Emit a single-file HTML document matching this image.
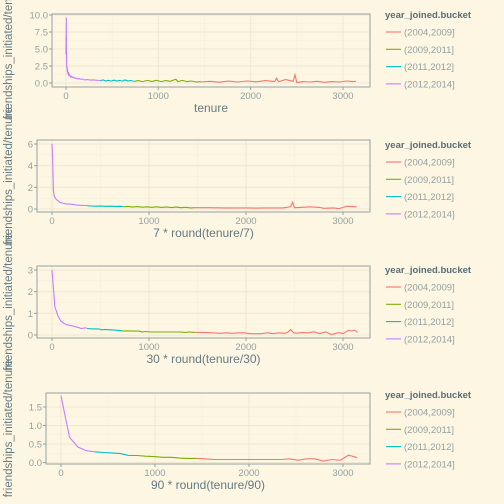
<!DOCTYPE html>
<html><head><meta charset="utf-8"><style>
body{margin:0;background:#fdf6e3;}
svg{display:block;font-family:"Liberation Sans",sans-serif;}
</style></head><body>
<svg id="c" width="504" height="504" viewBox="0 0 504 504">
<rect width="504" height="504" fill="#fdf6e3"/>
</svg>
<script>
// Panel 1: daily tenure
const p1PurpleX=[0,1,2,3,4,5,7,9,11,14,17,20,24,28,33,40,48,56,65,75,90,105,120,140,160,180,200,230,260,300,340,370];
const p1PurpleY=[4.2,6.8,5.0,9.6,6.2,4.3,3.0,2.2,2.5,1.6,2.1,1.4,1.3,1.6,1.1,1.2,0.9,1.0,0.8,0.9,0.7,0.75,0.6,0.65,0.55,0.6,0.45,0.5,0.42,0.45,0.4,0.38];
const p1CyanX=[370,400,430,460,490,520,550,580,610,640,670,700,730];
const p1CyanY=[0.3,0.45,0.3,0.4,0.28,0.42,0.3,0.38,0.28,0.45,0.3,0.36,0.3];
const p1GreenX=[730,780,830,880,930,980,1030,1080,1130,1170,1190,1210,1260,1310,1360,1410,1460];
const p1GreenY=[0.2,0.35,0.2,0.38,0.22,0.4,0.2,0.35,0.25,0.45,0.55,0.2,0.38,0.2,0.3,0.15,0.2];
const p1RedX=[1460,1560,1660,1760,1860,1960,2060,2160,2260,2280,2300,2380,2460,2480,2500,2560,2640,2720,2800,2880,2960,3040,3100,3140];
const p1RedY=[0.15,0.25,0.12,0.28,0.15,0.3,0.18,0.35,0.2,0.7,0.2,0.5,0.25,1.2,0.05,0.2,0.15,0.25,0.1,0.2,0.15,0.3,0.2,0.25];
// Panel 2: 7-day rounding
const p2PurpleX=[0,7,14,21,28,42,56,70,84,105,126,154,182,210,245,280,315,364];
const p2PurpleY=[6.0,4.4,1.7,1.3,1.1,0.9,0.8,0.7,0.6,0.55,0.5,0.45,0.45,0.42,0.38,0.35,0.33,0.32];
const p2CyanX=[364,400,450,500,550,600,650,700,735];
const p2CyanY=[0.3,0.28,0.26,0.27,0.25,0.26,0.24,0.25,0.22];
const p2GreenX=[735,780,830,880,930,980,1030,1080,1130,1180,1230,1280,1330,1380,1430,1463];
const p2GreenY=[0.2,0.24,0.18,0.22,0.17,0.2,0.16,0.2,0.15,0.19,0.13,0.18,0.12,0.16,0.1,0.12];
const p2RedX=[1463,1600,1800,2000,2100,2200,2380,2460,2480,2500,2560,2660,2760,2800,2900,2960,3000,3040,3140];
const p2RedY=[0.12,0.12,0.1,0.1,0.08,0.1,0.1,0.2,0.62,0.12,0.15,0.2,0.15,0.06,0.1,0.04,0.15,0.25,0.2];
// Panel 3: 30-day rounding
const p3PurpleX=[0,30,60,90,120,150,180,210,240,270,300,330,360];
const p3PurpleY=[3.0,1.3,0.9,0.65,0.55,0.48,0.45,0.42,0.38,0.35,0.3,0.32,0.33];
const p3CyanX=[360,420,480,510,540,600,660,720];
const p3CyanY=[0.3,0.28,0.28,0.24,0.26,0.24,0.22,0.2];
const p3GreenX=[720,780,840,900,930,960,1020,1080,1140,1200,1260,1320,1380,1410,1470];
const p3GreenY=[0.19,0.19,0.18,0.18,0.14,0.16,0.14,0.14,0.14,0.14,0.14,0.14,0.12,0.14,0.12];
const p3RedX=[1470,1560,1650,1740,1800,1860,1920,1980,2040,2100,2160,2220,2280,2340,2400,2430,2460,2490,2520,2580,2640,2700,2760,2820,2880,2940,2970,3000,3060,3090,3120,3150];
const p3RedY=[0.12,0.12,0.1,0.08,0.1,0.08,0.1,0.1,0.06,0.06,0.06,0.1,0.06,0.1,0.08,0.12,0.25,0.1,0.08,0.12,0.1,0.15,0.06,0.15,0.02,0.1,0.1,0.06,0.22,0.18,0.22,0.12];
// Panel 4: 90-day rounding
const p4PurpleX=[0,90,180,270,360];
const p4PurpleY=[1.8,0.68,0.42,0.32,0.29];
const p4CyanX=[360,450,540,630,720];
const p4CyanY=[0.29,0.27,0.26,0.24,0.19];
const p4GreenX=[720,810,900,990,1080,1170,1260,1350,1440];
const p4GreenY=[0.19,0.19,0.17,0.16,0.14,0.14,0.12,0.11,0.11];
const p4RedX=[1440,1530,1620,1710,1800,1890,1980,2070,2160,2250,2340,2430,2520,2610,2700,2790,2880,2970,3060,3150];
const p4RedY=[0.11,0.1,0.08,0.08,0.08,0.08,0.08,0.08,0.08,0.08,0.08,0.1,0.06,0.1,0.1,0.04,0.08,0.06,0.2,0.13];

const xTicks=[0,1000,2000,3000];
const legendLabels=["(2004,2009]","(2009,2011]","(2011,2012]","(2012,2014]"];
const legendColors=["#F8766D","#7CAE00","#00BFC4","#C77CFF"];
const p1YTicks=[0,2.5,5,7.5,10], p1YLabels=["0.0","2.5","5.0","7.5","10.0"];
const p2YTicks=[0,2,4,6], p2YLabels=["0","2","4","6"];
const p3YTicks=[0,1,2,3], p3YLabels=["0","1","2","3"];
const p4YTicks=[0,0.5,1,1.5], p4YLabels=["0.0","0.5","1.0","1.5"];

const NS="http://www.w3.org/2000/svg";
const svg=document.getElementById('c');
function mk(t,a,parent){const e=document.createElementNS(NS,t);for(const k in a)e.setAttribute(k,a[k]);(parent||svg).appendChild(e);return e;}

const panels=[
 {rect:[52,14,370,87],x0:66,x3:343,yv:[0,10],yp:[83,15],yt:p1YTicks,yl:p1YLabels,title:"tenure",
  series:[[p1RedX,p1RedY],[p1GreenX,p1GreenY],[p1CyanX,p1CyanY],[p1PurpleX,p1PurpleY]],top:0},
 {rect:[37,140,370,212],x0:52,x3:343,yv:[0,6],yp:[209,144],yt:p2YTicks,yl:p2YLabels,title:"7 * round(tenure/7)",
  series:[[p2RedX,p2RedY],[p2GreenX,p2GreenY],[p2CyanX,p2CyanY],[p2PurpleX,p2PurpleY]],top:130},
 {rect:[37,266,370,338],x0:52,x3:343,yv:[0,3],yp:[335,270],yt:p3YTicks,yl:p3YLabels,title:"30 * round(tenure/30)",
  series:[[p3RedX,p3RedY],[p3GreenX,p3GreenY],[p3CyanX,p3CyanY],[p3PurpleX,p3PurpleY]],top:255},
 {rect:[46,393,370,464],x0:61,x3:343,yv:[0,1.5],yp:[462.5,407],yt:p4YTicks,yl:p4YLabels,title:"90 * round(tenure/90)",
  series:[[p4RedX,p4RedY],[p4GreenX,p4GreenY],[p4CyanX,p4CyanY],[p4PurpleX,p4PurpleY]],top:380}
];

panels.forEach((p,pi)=>{
  const g=mk('g',{});
  
  
  const [l,t,r,b]=p.rect;
  const sx=v=>p.x0+(p.x3-p.x0)*v/3000;
  const sy=v=>p.yp[0]+(p.yp[1]-p.yp[0])*(v-p.yv[0])/(p.yv[1]-p.yv[0]);
  mk('rect',{x:l,y:t,width:r-l,height:b-t,fill:'#fdf6e3'},g);
  for(let i=0;i<xTicks.length-1;i++){const m=sx((xTicks[i]+xTicks[i+1])/2);mk('line',{x1:m,x2:m,y1:t,y2:b,stroke:'#f5eedb','stroke-width':0.6},g);}
  for(let i=0;i<p.yt.length-1;i++){const m=sy((p.yt[i]+p.yt[i+1])/2);mk('line',{x1:l,x2:r,y1:m,y2:m,stroke:'#f5eedb','stroke-width':0.6},g);}
  xTicks.forEach(v=>{const x=sx(v);mk('line',{x1:x,x2:x,y1:t,y2:b,stroke:'#efe8d4','stroke-width':1.1},g);
    mk('line',{x1:x,x2:x,y1:b,y2:b+3,stroke:'#93a1a1'},g);
    const tx=mk('text',{x:x,y:b+12,'text-anchor':'middle','font-size':9.5,fill:'#93a1a1'},g);tx.textContent=v;
    
    });
  p.yt.forEach((v,i)=>{const y=sy(v);mk('line',{x1:l,x2:r,y1:y,y2:y,stroke:'#efe8d4','stroke-width':1.1},g);
    mk('line',{x1:l-3,x2:l,y1:y,y2:y,stroke:'#93a1a1'},g);
    const tx=mk('text',{x:l-4,y:y+3.5,'text-anchor':'end','font-size':9.5,fill:'#93a1a1'},g);tx.textContent=p.yl[i];
    
    });
  p.series.forEach((s,si)=>{
    const d=s[0].map((x,i)=>(i?'L':'M')+sx(x).toFixed(1)+','+sy(s[1][i]).toFixed(1)).join('');
    const pa=mk('path',{d:d,fill:'none',stroke:legendColors[si],'stroke-width':1.1},g);
    
    
  });
  mk('rect',{x:l,y:t,width:r-l,height:b-t,fill:'none',stroke:'#93a1a1','stroke-width':1},g);
  const xt=mk('text',{x:(l+r)/2,y:b+25,'text-anchor':'middle','font-size':12,fill:'#657b83'},g);
  xt.textContent=p.title;
  
  
  const cy=(t+b)/2;
  const yt=mk('text',{x:0,y:0,'text-anchor':'middle','font-size':11.5,fill:'#657b83',transform:`translate(12,${cy}) rotate(-90)`},g);
  yt.textContent='friendships_initiated/tenure';
  
  
  const lt=mk('text',{x:385,y:p.top+18,'font-size':9.5,'font-weight':'bold',fill:'#586e75'},g);
  lt.textContent='year_joined.bucket';
  
  
  legendLabels.forEach((lab,i)=>{
    const y=p.top+32+i*17.3;
    mk('line',{x1:386,x2:401,y1:y,y2:y,stroke:legendColors[i],'stroke-width':1.1},g);
    const tx=mk('text',{x:404,y:y+3.5,'font-size':9.5,fill:'#93a1a1'},g);tx.textContent=lab;
    
    
  });
});
</script>
</body></html>
